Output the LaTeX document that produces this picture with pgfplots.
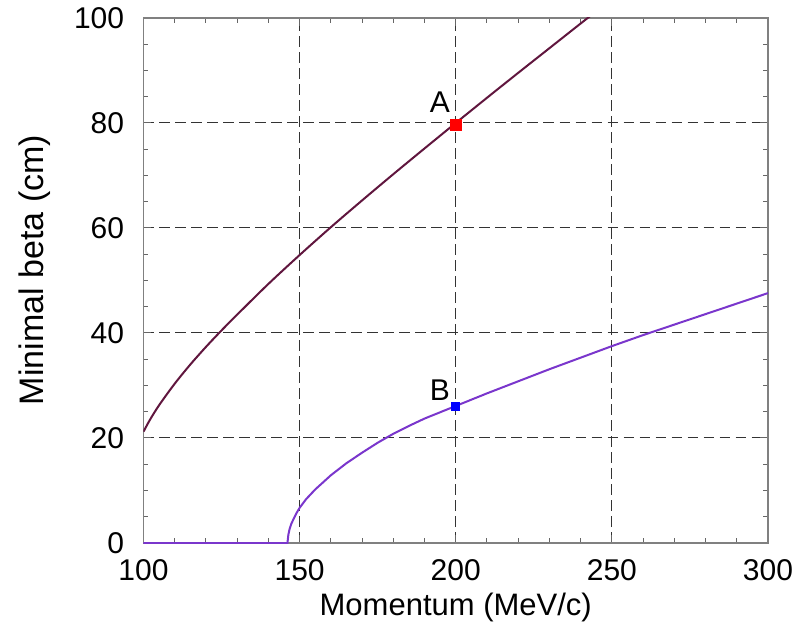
\documentclass[border=0pt]{standalone}
\usepackage{pgfplots}
\pgfplotsset{compat=1.18}
\usepackage{fontspec}
\setmainfont{Liberation Sans}
\definecolor{curveA}{RGB}{96,22,62}
\definecolor{curveB}{RGB}{122,54,204}
\begin{document}
\begin{tikzpicture}
\path[use as bounding box] (-71.75pt,-44.5pt) rectangle (330.25pt,271.5pt);
\begin{axis}[
  scale only axis,
  width=312.25pt, height=262.5pt,
  xmin=100, xmax=300, ymin=0, ymax=100,
  xtick={100,150,...,300}, ytick={0,20,...,100},
  minor x tick num=4, minor y tick num=3,
  tick pos=both, tick align=inside,
  major tick length=4pt, minor tick length=2.5pt,
  every tick/.style={gray!80!black, line width=0.5pt},
  axis line style={gray, line width=0.8pt},
  grid=major,
  major grid style={black!80, line width=0.5pt, dash pattern=on 5.3pt off 2.7pt},
  /pgf/number format/assume math mode=true,
  ticklabel style={font=\fontsize{15}{17}\selectfont, inner sep=1pt},
  yticklabel style={xshift=-8.5pt},
  xticklabel style={yshift=-7pt},
  xlabel={Momentum (MeV/c)}, ylabel={Minimal beta (cm)},
  xlabel style={font=\fontsize{15.5}{18}\selectfont, at={(axis description cs:0.5,-0.122)}, anchor=center},
  ylabel style={font=\fontsize{17}{19}\selectfont, at={(axis description cs:-0.1737,0.52)}, anchor=center},
  clip=true,
]
\addplot[curveA, line width=1pt, smooth] coordinates {
(100,21.2) (102,23.4) (105,26.25) (110,30.35) (115,34.0) (120,37.35) (125,40.5)
(130,43.5) (140,49.35) (150,54.85) (160,60.15) (170,65.25) (180,70.25) (190,75.15)
(200,80.0) (210,84.8) (220,89.55) (230,94.25) (240,98.95) (250,103.6)
};
\addplot[curveB, line width=1pt] coordinates {
(100,0) (146.1,0) (146.4,1.6) (146.8,2.7) (147.3,3.6) (148,4.5) (149,5.7) (150,6.7)
(152,8.3) (155,10.2) (160,12.9) (165,15.2) (170,17.2) (175,19.1) (180,20.8) (185,22.3) (190,23.7)
(200,26.1) (210,28.5) (220,30.8) (230,33.1) (240,35.3) (250,37.5) (260,39.6)
(270,41.6) (280,43.6) (290,45.6) (300,47.6)
};
\addplot[only marks, mark=square*, mark size=2.6pt, color=red] coordinates {(200,79.6)};
\addplot[only marks, mark=square*, mark size=2pt, color=blue] coordinates {(200,26.1)};
\node[font=\fontsize{15}{17}\selectfont] at (axis cs:194.9,84.0) {A};
\node[font=\fontsize{15}{17}\selectfont] at (axis cs:194.9,29.2) {B};
\end{axis}
\end{tikzpicture}
\end{document}
